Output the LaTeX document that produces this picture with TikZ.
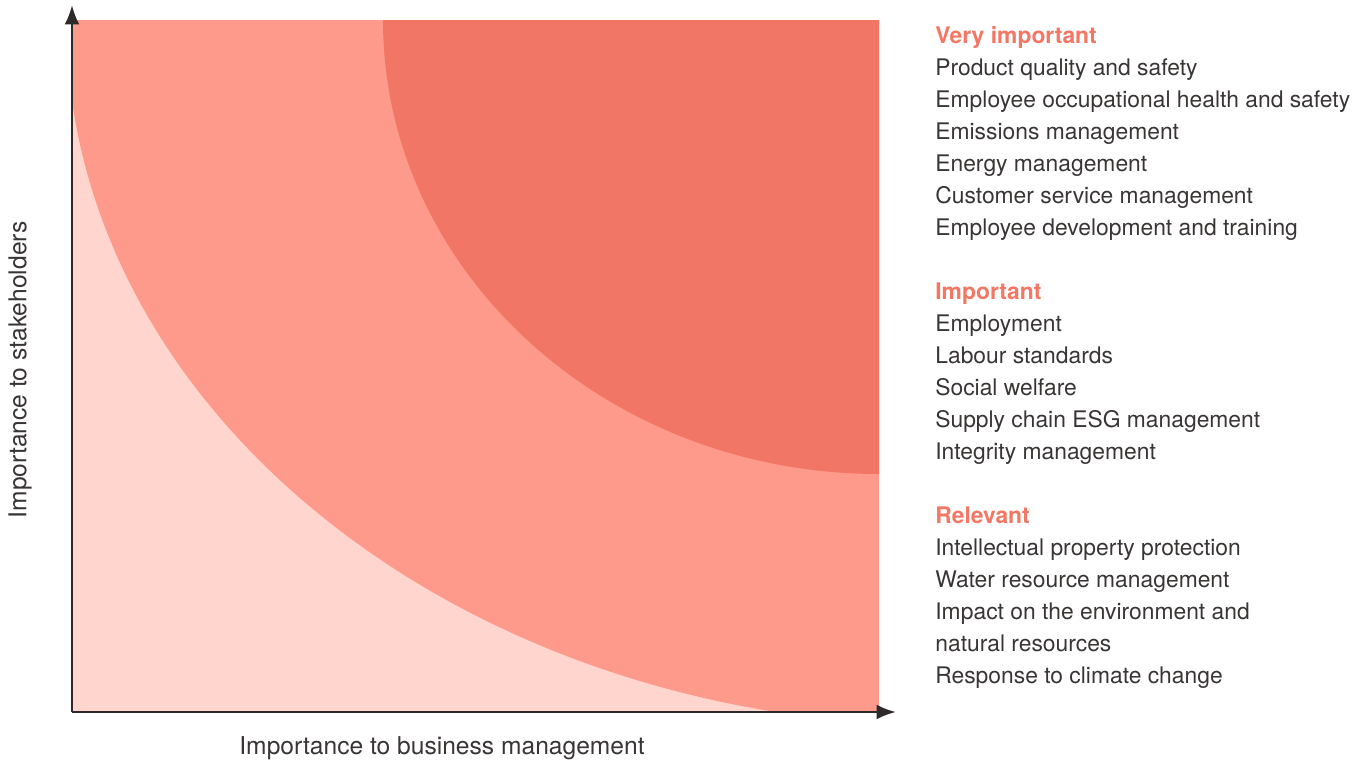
\documentclass[tikz,border=0pt]{standalone}
\usepackage{fontspec}
\setmainfont{TeX Gyre Heros}
\usepackage{tikz}
\usetikzlibrary{arrows.meta}

\definecolor{lowred}{HTML}{FFD5CD}
\definecolor{midred}{HTML}{FD9A8C}
\definecolor{highred}{HTML}{F27666}
\definecolor{headred}{HTML}{F47764}
\definecolor{textgray}{HTML}{3A3535}

\tikzset{
  axisline/.style={line width=1.6pt, textgray!80!black, -{Latex[length=11pt,width=8.5pt]}},
  axislabel/.style={text=textgray, font=\fontsize{14}{16}\selectfont},
  listtext/.style={anchor=base west, align=left, inner sep=0pt, text=textgray,
    font=\fontsize{13}{18.14}\selectfont}
}

\begin{document}
\begin{tikzpicture}[x=0.02cm, y=-0.02cm]
\useasboundingbox (0,0) rectangle (1365,764);

%% Regions
\fill[lowred] (72,20) rectangle (879,712);
\begin{scope}
\clip (72,20) rectangle (879,712);
\fill[midred] (950,20) ellipse [x radius=883.7, y radius=705.7];
\fill[highred] (879,20) ellipse [x radius=496, y radius=454];
\end{scope}

%% Axis
\coordinate (origin) at (72,712);
\coordinate (ytip) at (72,5);
\coordinate (xtip) at (896,712);
\draw[axisline] (origin)--(ytip);
\draw[axisline] (origin)--(xtip);
\node[axislabel] (xlabel) at (442,748) {Importance to business management};
\node[axislabel, rotate=90] (ylabel) at (20,370) {Importance to stakeholders};

%% Lists (anchored at the baseline of the last line)
\node[listtext] (veryimp) at (935,235) {\textcolor{headred}{\bfseries Very important}\\
Product quality and safety\\
Employee occupational health and safety\\
Emissions management\\
Energy management\\
Customer service management\\
Employee development and training};
\node[listtext] (imp) at (935,459) {\textcolor{headred}{\bfseries Important}\\
Employment\\
Labour standards\\
Social welfare\\
Supply chain ESG management\\
Integrity management};
\node[listtext] (relevant) at (935,683) {\textcolor{headred}{\bfseries Relevant}\\
Intellectual property protection\\
Water resource management\\
Impact on the environment and\\
natural resources\\
Response to climate change};
\end{tikzpicture}
\end{document}
